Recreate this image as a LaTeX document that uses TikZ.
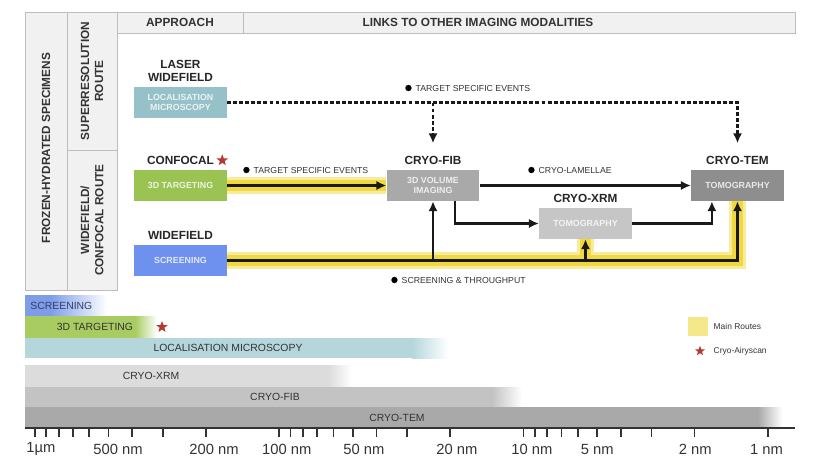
\documentclass[tikz,border=0pt]{standalone}
\usepackage{fontspec}
\setmainfont{Liberation Sans}
\usepackage{xcolor}
\usepackage{tikz}
\usetikzlibrary{positioning,arrows.meta,shapes.geometric}
\definecolor{ng}{HTML}{333333}
\definecolor{cellgray}{HTML}{F1F1F1}
\definecolor{cellline}{HTML}{BDBDBD}
\definecolor{locteal}{HTML}{96C1C8}
\definecolor{tgtgreen}{HTML}{9BC353}
\definecolor{scrblue}{HTML}{6E90EE}
\definecolor{fibgray}{HTML}{A9A9A9}
\definecolor{xrmgray}{HTML}{C6C6C6}
\definecolor{temgray}{HTML}{8E8E8E}
\definecolor{routeyel}{HTML}{F0D83E}
\definecolor{routepale}{HTML}{F7EC9C}
\definecolor{legyel}{HTML}{F5E88A}
\definecolor{starred}{HTML}{B5392C}
\definecolor{scrbar}{HTML}{7F9CE8}
\definecolor{tgtbar}{HTML}{A8CB62}
\definecolor{locbar}{HTML}{B5D7DC}
\definecolor{xrmbar}{HTML}{DCDCDC}
\definecolor{fibbar}{HTML}{C3C3C3}
\definecolor{tembar}{HTML}{A9A9A9}
\newcommand{\rangebar}[5]{% #1 colour, #2 top, #3 bottom, #4 end of solid part, #5 end of fade
  \fill[#1] (0.625,#2) rectangle (#4+0.01,#3);
  \shade[left color=#1, right color=white] (#4,#2) rectangle (#5,#3);}

\begin{document}
\begin{tikzpicture}[
    cell/.style={fill=cellgray, draw=cellline, line width=0.6pt},
    hd/.style={font=\fontsize{8.4}{10}\selectfont\bfseries, text=ng, align=center, inner sep=1pt},
    lbl/.style={font=\fontsize{8.4}{9.4}\selectfont\bfseries, text=black!85, align=center, inner sep=1pt},
    mbox/.style={minimum width=2.32cm, minimum height=0.775cm, inner sep=1pt, align=center,
                 font=\fontsize{6.3}{7.2}\selectfont\bfseries, text=white, text opacity=0.8},
    link/.style={-{Latex[length=7pt, width=6.5pt]}, line width=1.5pt, draw=black!90},
    dlink/.style={link, dash pattern=on 2.8pt off 1.5pt, shorten >=8pt},
    route/.style={line width=11.5pt, draw=routepale},
    routein/.style={line width=7.5pt, draw=routeyel},
    note/.style={font=\fontsize{6.2}{7}\selectfont, text=ng, anchor=west, inner sep=1pt,
                 label={[circle, fill=black, inner sep=1.6pt, label distance=1.5pt]left:{}}},
    bartxt/.style={font=\fontsize{7.4}{8}\selectfont, text=ng, inner sep=1pt},
    legtxt/.style={font=\fontsize{6}{7}\selectfont, text=ng, anchor=west, inner sep=1pt},
    ax/.style={line width=1.4pt, draw=ng},
    tk/.style={line width=1.2pt, draw=ng},
    axlbl/.style={font=\fontsize{10.5}{12}\selectfont, text=ng, inner sep=1pt},
    starmark/.style={star, star points=5, star point ratio=2.4, fill=starred, draw=none,
                     inner sep=0pt, minimum size=#1},
    starmark/.default=0.3cm
  ]
  \useasboundingbox (0,0) rectangle (20.7,-11.575);

  % ---- header table ----------------------------------------------------
  \draw[cell] (0.625,-0.3) rectangle (1.675,-7.25);
  \draw[cell] (1.675,-0.3) rectangle (2.925,-3.75);
  \draw[cell] (1.675,-3.75) rectangle (2.925,-7.25);
  \draw[cell] (2.925,-0.3) rectangle (6.075,-0.825);
  \draw[cell] (6.075,-0.3) rectangle (19.875,-0.825);
  \node[hd, rotate=90] (frozen)   at (1.15,-3.7)  {FROZEN-HYDRATED SPECIMENS};
  \node[hd, rotate=90] (superres) at (2.3,-2.025) {SUPERRESOLUTION\\ROUTE};
  \node[hd, rotate=90] (wfconf)   at (2.3,-5.5)   {WIDEFIELD/\\CONFOCAL ROUTE};
  \node[hd] (approach) at (4.5,-0.56)  {APPROACH};
  \node[hd] (links)    at (11.95,-0.56) {LINKS TO OTHER IMAGING MODALITIES};

  % ---- methods and modalities ------------------------------------------
  \node[mbox, fill=locteal]  (loc) at (4.5125,-2.5625)  {LOCALISATION\\MICROSCOPY};
  \node[mbox, fill=tgtgreen] (tgt) at (4.5125,-4.6375)  {3D TARGETING};
  \node[mbox, fill=scrblue]  (scr) at (4.5125,-6.5125)  {SCREENING};
  \node[mbox, fill=fibgray]  (fib) at (10.825,-4.6375)  {3D VOLUME\\IMAGING};
  \node[mbox, fill=xrmgray]  (xrm) at (14.6375,-5.5875) {TOMOGRAPHY};
  \node[mbox, fill=temgray]  (tem) at (18.4375,-4.6375) {TOMOGRAPHY};

  \node[lbl, above=2.5pt of loc] (loclbl) {LASER\\WIDEFIELD};
  \node[lbl, above=2.5pt of tgt] (tgtlbl) {CONFOCAL};
  \node[starmark, right=2pt of tgtlbl] (tgtstar) {};
  \node[lbl, above=2.5pt of scr] (scrlbl) {WIDEFIELD};
  \node[lbl, above=2.5pt of fib] (fiblbl) {CRYO-FIB};
  \node[lbl, above=2.5pt of xrm] (xrmlbl) {CRYO-XRM};
  \node[lbl, above=2.5pt of tem] (temlbl) {CRYO-TEM};

  % ---- main routes, under the links ------------------------------------
  \draw[route] (tgt.east) -- (fib.west);
  \draw[route] (scr.east) -| (tem.south);
  \draw[route] (scr.east -| xrm.south) -- (xrm.south);
  \draw[routein] (tgt.east) -- (fib.west);
  \draw[routein] (scr.east) -| (tem.south);
  \draw[routein] (scr.east -| xrm.south) -- (xrm.south);

  % ---- links -------------------------------------------------------------
  \draw[link] (tgt.east) -- (fib.west);
  \draw[link] (fib.east) -- (tem.west);
  \draw[link] ([xshift=0.55cm]fib.south) |- (xrm.west);
  \draw[link] (xrm.east) -| ([xshift=-0.64cm]tem.south);
  \draw[link] (scr.east) -| (tem.south);
  \draw[link] (scr.east -| fib.south) -- (fib.south);
  \draw[link] (scr.east -| xrm.south) -- (xrm.south);
  \draw[dlink] (loc.east) -| (temlbl.north);
  \draw[dlink] (loc.east -| fiblbl.north) -- (fiblbl.north);

  \node[note] (n1) at (10.35,-2.2)   {TARGET SPECIFIC EVENTS};
  \node[note] (n2) at (6.3,-4.25)    {TARGET SPECIFIC EVENTS};
  \node[note] (n3) at (13.425,-4.25) {CRYO-LAMELLAE};
  \node[note] (n4) at (10.0,-7.0)    {SCREENING \& THROUGHPUT};

  % ---- resolution ranges -------------------------------------------------
  \rangebar{scrbar}{-7.375}{-7.9}{1.25}{2.675}
  \rangebar{tgtbar}{-7.9}{-8.45}{3.375}{3.925}
  \rangebar{locbar}{-8.45}{-8.95}{10.3}{11.2}
  \rangebar{xrmbar}{-9.125}{-9.675}{8.2}{8.8}
  \rangebar{fibbar}{-9.675}{-10.175}{12.3}{13.05}
  \rangebar{tembar}{-10.175}{-10.7}{18.95}{19.55}
  \node[bartxt, anchor=west, text=scrblue!45!black] (bscr) at (0.72,-7.64) {SCREENING};
  \node[bartxt] (btgt) at (2.375,-8.175) {3D TARGETING};
  \node[starmark] (btgtstar) at (4.05,-8.175) {};
  \node[bartxt] (bloc) at (5.7,-8.7)    {LOCALISATION MICROSCOPY};
  \node[bartxt] (bxrm) at (3.775,-9.4)  {CRYO-XRM};
  \node[bartxt] (bfib) at (6.875,-9.925) {CRYO-FIB};
  \node[bartxt] (btem) at (9.925,-10.44) {CRYO-TEM};

  % ---- scale, log from 1 um to 1 nm ----------------------------------------
  \draw[ax] (0.625,-10.7) -- (19.875,-10.7);
  \foreach \d in {0,1,2}
    \foreach \k in {1,...,10}
      \draw[tk] ({0.875+6.108*(\d+1-log10(\k))},-10.7) -- ++(0,-0.23);
  \foreach \x/\t [count=\i] in {1.025/1µm, 2.95/500 nm, 5.35/200 nm, 7.17/100 nm, 9.1/50 nm,
                                11.42/20 nm, 13.3/10 nm, 14.93/5 nm, 17.38/2 nm, 19.16/1 nm}
    \node[axlbl] (sl\i) at (\x,-11.225) {\t};

  % ---- legend --------------------------------------------------------------
  \node[fill=legyel, minimum width=0.5cm, minimum height=0.475cm, inner sep=0pt] (legsq) at (17.45,-8.16) {};
  \node[legtxt] (legroute) at (17.8,-8.15) {Main Routes};
  \node[starmark=0.26cm] (legstar) at (17.5,-8.775) {};
  \node[legtxt] (legair) at (17.8,-8.775) {Cryo-Airyscan};

\end{tikzpicture}
\end{document}
